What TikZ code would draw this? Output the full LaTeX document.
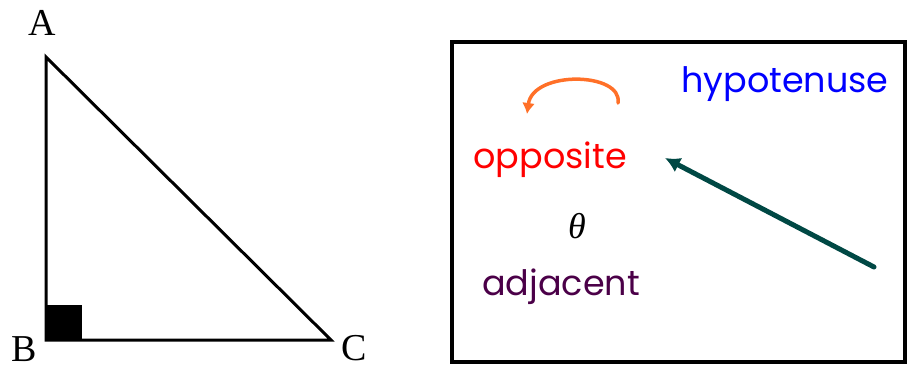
\documentclass[tikz,border=0pt]{standalone}
\usepackage{fontspec}
\setmainfont{Liberation Serif}
\newfontfamily\comicfont{Poppins}
\usetikzlibrary{arrows.meta}
\definecolor{oppred}{RGB}{255,0,0}
\definecolor{hypblue}{RGB}{0,0,255}
\definecolor{adjpurple}{RGB}{75,0,72}
\definecolor{curlorange}{RGB}{255,112,40}
\definecolor{hyparrow}{RGB}{0,72,68}
\begin{document}
\begin{tikzpicture}[x=1pt,y=-1pt,
    vertex/.style={font=\fontsize{38}{38}\selectfont, inner sep=0pt},
    side/.style={font=\comicfont\fontsize{35}{35}\selectfont, inner sep=0pt}]
	\useasboundingbox (0,0) rectangle (910,368);
	% Triangle principal
	\coordinate (A) at (46,57);
	\coordinate (B) at (46,340);
	\coordinate (C) at (331,340);
	\draw[line width=3pt] (A) -- (B) -- (C) -- cycle;
	\fill (B) rectangle (82,305);
	\node[vertex] (labA) at (42,23) {A};
	\node[vertex] (labB) at (24,349) {B};
	\node[vertex] (labC) at (354,348) {C};
	% Box
	\draw[line width=3.5pt] (452,42) rectangle (905,362);
	\node[side, text=hypblue] (hyp) at (785,84) {hypotenuse};
	\node[side, text=oppred] (opp) at (550,160) {opposite};
	\node[side, text=adjpurple] (adj) at (561,287) {adjacent};
	\node[font=\fontsize{36}{36}\selectfont\itshape, inner sep=0pt] (theta) at (577,226) {θ};
	% Arrows
	\coordinate (curlstart) at (618,103);
	\coordinate (curlend) at (527,114);
	\draw[curlorange, line width=3.5pt, line cap=round, -{Latex[length=11pt,width=13pt]}]
		(curlstart) .. controls (623,72) and (533,70) .. (curlend);
	\coordinate (tail) at (874,267);
	\coordinate (tip) at (665,158);
	\draw[hyparrow, line width=5pt, line cap=round, -{Latex[length=15pt,width=16pt]}] (tail) -- (tip);
\end{tikzpicture}
\end{document}
